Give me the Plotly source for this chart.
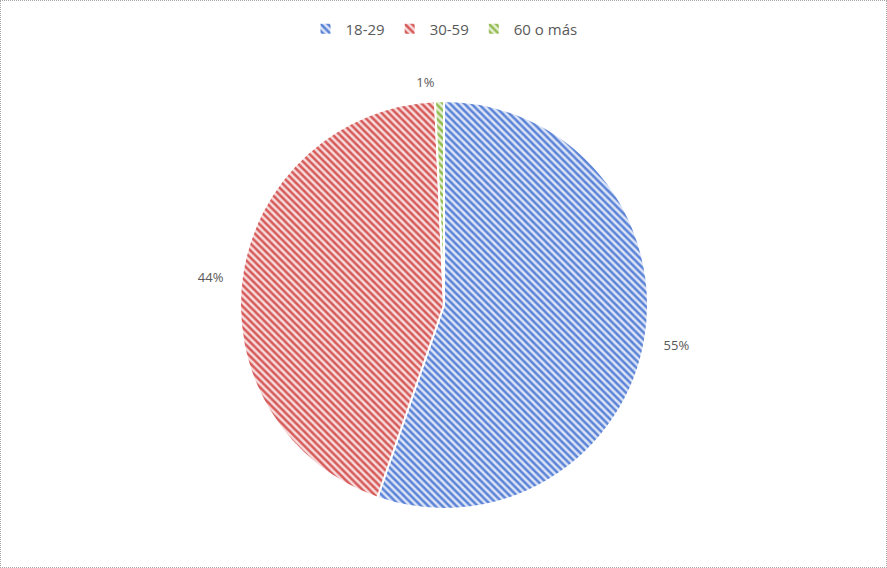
import plotly.graph_objects as go

labels = ["18-29", "30-59", "60 o más"]
values = [55.3, 44.0, 0.7]
fg_colors = ["#5B83D6", "#D65A5A", "#94BC52"]
bg_colors = ["#DCE4F7", "#F7DCDC", "#E6F0D6"]

FONT = "Open Sans, Liberation Sans, sans-serif"

pie = go.Pie(
    labels=labels,
    values=values,
    sort=False,
    direction="clockwise",
    rotation=0,
    textinfo="none",
    domain=dict(x=[0, 1], y=[0.1039, 0.8222]),
    marker=dict(
        colors=bg_colors,
        line=dict(color="white", width=2),
        pattern=dict(shape="\\", fgcolor=fg_colors, bgcolor=bg_colors, size=5, solidity=0.5),
    ),
    showlegend=True,
    hoverinfo="label+percent",
)

label_pie = go.Pie(
    labels=labels,
    values=values,
    sort=False,
    direction="clockwise",
    rotation=0,
    texttemplate="%{percent:.0%}",
    textposition="outside",
    textfont=dict(family=FONT, size=13, color="#595959"),
    domain=dict(x=[0, 1], y=[0.0720, 0.8400]),
    marker=dict(colors=["rgba(0,0,0,0)"] * 3, line=dict(width=0)),
    showlegend=False,
    hoverinfo="skip",
)

fig = go.Figure([label_pie, pie])

fig.update_layout(
    width=887, height=568,
    paper_bgcolor="white",
    plot_bgcolor="white",
    margin=dict(l=0, r=0, t=0, b=0),
    legend=dict(
        orientation="h", x=0.5, xanchor="center", y=0.978, yanchor="top",
        font=dict(family=FONT, size=15, color="#595959"),
        itemwidth=30,
    ),
)

post = (
    "document.body.style.margin='0px';"
    "var f=document.createElement('div');"
    "f.style.cssText='position:fixed;left:0;top:0;width:887px;height:568px;"
    "box-sizing:border-box;border:1px dotted #A6A6A6;pointer-events:none;z-index:1000;';"
    "document.body.appendChild(f);"
)
fig.write_html("out.html", post_script=post, config={"displayModeBar": False})
